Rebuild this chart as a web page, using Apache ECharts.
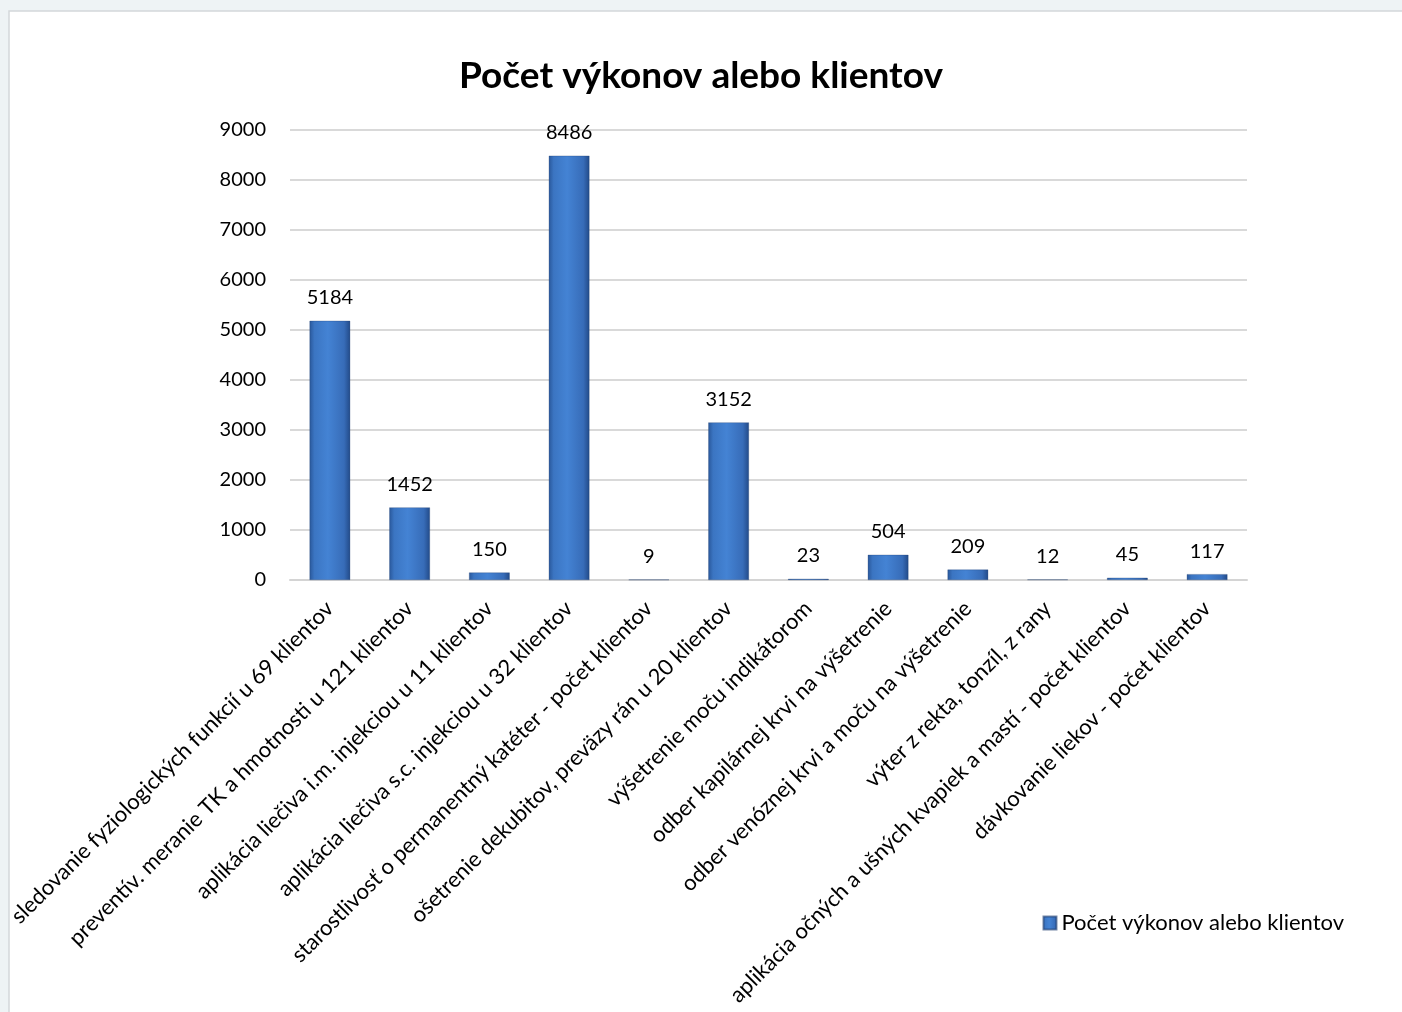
<!DOCTYPE html>
<html>
<head>
<meta charset="utf-8">
<script src="https://cdn.jsdelivr.net/npm/echarts@6/dist/echarts.min.js"></script>
<style>
html,body{margin:0;padding:0;background:#eef3f5;}
#c{width:1402px;height:1012px;}
</style>
</head>
<body>
<div id="c"></div>
<script>
const titleText = 'Počet výkonov alebo klientov';
const seriesName = 'Počet výkonov alebo klientov';
const categories = [
  'sledovanie fyziologických funkcií u 69 klientov',
  'preventív. meranie TK a hmotnosti u 121 klientov',
  'aplikácia liečiva i.m. injekciou u 11 klientov',
  'aplikácia liečiva s.c. injekciou u 32 klientov',
  'starostlivosť o permanentný katéter - počet klientov',
  'ošetrenie dekubitov, preväzy rán u 20 klientov',
  'výšetrenie moču indikátorom',
  'odber kapilárnej krvi na výšetrenie',
  'odber venóznej krvi a moču na výšetrenie',
  'výter z rekta, tonzíl, z rany',
  'aplikácia očných a ušných kvapiek a mastí - počet klientov',
  'dávkovanie liekov - počet klientov'
];
const values = [5184, 1452, 150, 8486, 9, 3152, 23, 504, 209, 12, 45, 117];
const yMin = 0, yMax = 9000, yStep = 1000;

const FONT = 'Lato, "Open Sans", sans-serif';
const barGrad = new echarts.graphic.LinearGradient(0, 0, 1, 0, [
  {offset: 0, color: '#29579a'},
  {offset: 0.12, color: '#3b75c2'},
  {offset: 0.45, color: '#4483d4'},
  {offset: 0.85, color: '#376cb8'},
  {offset: 1, color: '#224a88'}
]);

const chart = echarts.init(document.getElementById('c'), null, {renderer: 'canvas'});
chart.setOption({
  backgroundColor: '#eef3f5',
  animation: false,
  graphic: [{
    type: 'rect', z: -10, silent: true,
    shape: {x: 9, y: 11, width: 1400, height: 1010},
    style: {fill: '#ffffff', stroke: '#d3d8da', lineWidth: 1.5}
  }],
  title: {
    text: titleText, left: 'center', top: 53,
    textStyle: {fontFamily: FONT, fontSize: 37, fontWeight: 'bold', color: '#000'}
  },
  legend: {
    right: 53, top: 907, itemWidth: 13, itemHeight: 13, itemGap: 6,
    icon: 'rect',
    textStyle: {fontFamily: FONT, fontSize: 22, color: '#000'},
    data: [{name: seriesName, itemStyle: {color: barGrad}}]
  },
  grid: {left: 290, right: 155, top: 130, bottom: 432, containLabel: false},
  xAxis: {
    type: 'category', data: categories,
    axisLine: {show: true, lineStyle: {color: '#d4d4d4', width: 2}},
    axisTick: {show: false},
    axisLabel: {
      interval: 0, rotate: 45, margin: 25,
      fontFamily: FONT, fontSize: 22, color: '#000'
    }
  },
  yAxis: {
    type: 'value', min: yMin, max: yMax, interval: yStep,
    axisLine: {show: false}, axisTick: {show: false},
    splitLine: {lineStyle: {color: '#d9d9d9', width: 2}},
    axisLabel: {margin: 24, fontFamily: FONT, fontSize: 20, color: '#000',
      formatter: v => String(v)}
  },
  series: [{
    name: seriesName, type: 'bar', data: values,
    barWidth: '51%',
    itemStyle: {color: barGrad, borderColor: 'rgba(30,60,110,0.6)', borderWidth: 0.5},
    label: {
      show: true, position: 'top', distance: 13,
      fontFamily: FONT, fontSize: 20, color: '#000'
    }
  }]
});
</script>
</body>
</html>
